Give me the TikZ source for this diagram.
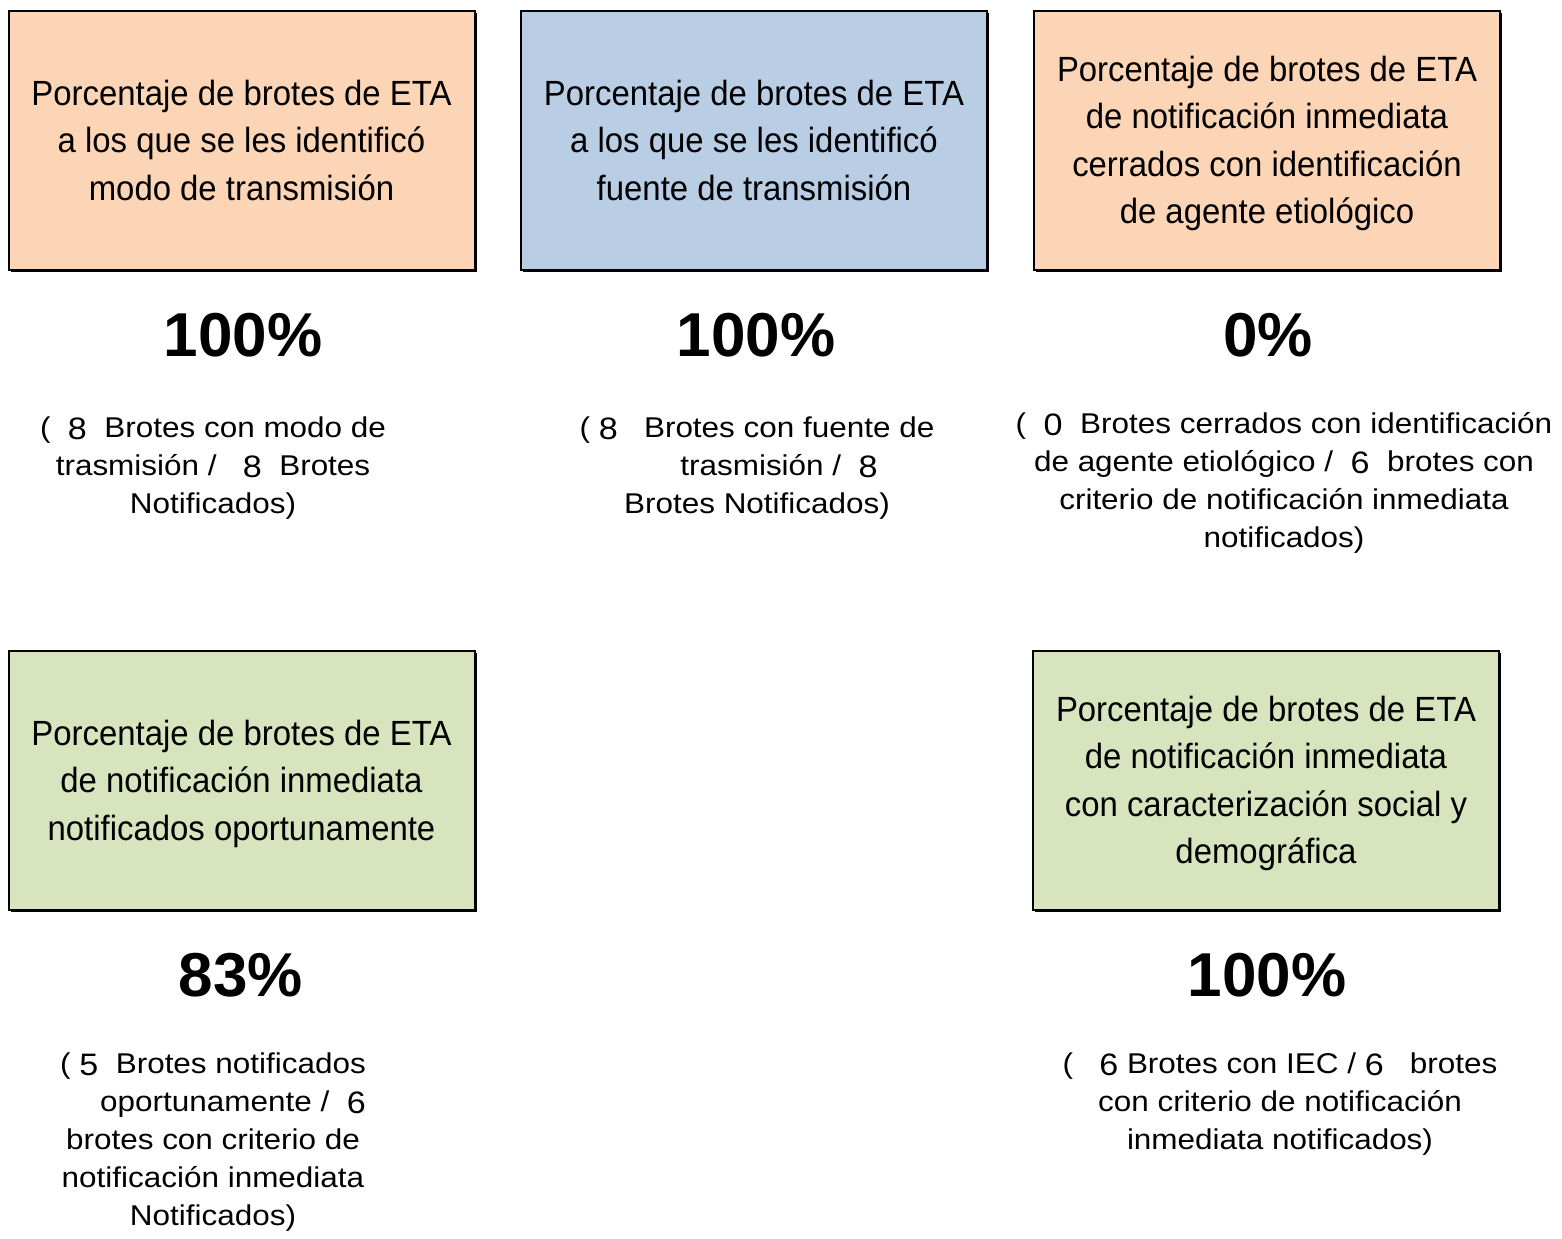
\documentclass[tikz,border=0pt]{standalone}
\usepackage{fontspec}
\setmainfont{Liberation Sans}
\newfontfamily\boxfont[FakeStretch=0.94]{Liberation Sans}
\newfontfamily\lowfont[FakeStretch=1.1]{Liberation Sans}
\usetikzlibrary{shadows}
\definecolor{peach}{RGB}{251,213,181}
\definecolor{paleblue}{RGB}{185,205,229}
\definecolor{palegreen}{RGB}{215,228,189}
\newcommand\dg[1]{{\fontsize{15.5}{19}\selectfont\raisebox{-1pt}{#1}}}
\newcommand\nodepth[1]{\raisebox{0pt}[\height][0pt]{#1}}
\begin{document}
\begin{tikzpicture}[x=0.5pt,y=-0.5pt,
  indbox/.style={draw=black, line width=1pt, minimum width=233pt, minimum height=129.5pt,
    inner sep=0pt, align=center,
    general shadow={fill=black, shadow xshift=1.2pt, shadow yshift=-1.2pt},
    font=\boxfont\fontsize{17.5}{23.75}\selectfont},
  pct/.style={font=\bfseries\fontsize{31}{34}\selectfont, inner sep=0pt},
  desc/.style={align=center, inner sep=0pt, font=\lowfont\fontsize{14.3}{19}\selectfont}]
\useasboundingbox (0,0) rectangle (1562,1238);

% boxes
\node[indbox, fill=peach] (b1) at (241.5,140) {Porcentaje de brotes de ETA\\a los que se les identificó\\modo de transmisión};
\node[indbox, fill=paleblue] (b2) at (754,140) {Porcentaje de brotes de ETA\\a los que se les identificó\\fuente de transmisión};
\node[indbox, fill=peach] (b3) at (1267,140) {Porcentaje de brotes de ETA\\de notificación inmediata\\cerrados con identificación\\\nodepth{de agente etiológico}};
\node[indbox, fill=palegreen] (b4) at (241.5,780) {Porcentaje de brotes de ETA\\de notificación inmediata\\\nodepth{notificados oportunamente}};
\node[indbox, fill=palegreen] (b5) at (1266,780) {Porcentaje de brotes de ETA\\de notificación inmediata\\con caracterización social y\\\nodepth{demográfica}};

% percentages
\node[pct] (p1) at (243,335) {100\%};
\node[pct] (p2) at (756,335) {100\%};
\node[pct] (p3) at (1268,335) {0\%};
\node[pct] (p4) at (241,975) {83\%};
\node[pct] (p5) at (1267,975) {100\%};

% descriptions
\node[desc] (d1) at (213,468) {(\ \ \dg{8}\ \ Brotes con modo de\\trasmisión /\ \ \ \dg{8}\ \ Brotes\\Notificados)};
\node[desc] (d2) at (757,468) {(\ \dg{8}\ \ \ Brotes con fuente de\\\hspace*{22pt}trasmisión /\ \ \dg{8}\\Brotes Notificados)};
\node[desc] (d3) at (1284,483) {(\ \ \dg{0}\ \ Brotes cerrados con identificación\\de agente etiológico /\ \ \dg{6}\ \ brotes con\\criterio de notificación inmediata\\notificados)};
\node[desc] (d4) at (213,1142) {(\ \dg{5}\ \ Brotes notificados\\\hspace*{20pt}oportunamente /\ \ \dg{6}\\brotes con criterio de\\notificación inmediata\\Notificados)};
\node[desc] (d5) at (1280,1104) {(\ \ \ \dg{6}\ Brotes con IEC /\ \dg{6}\ \ \ brotes\\con criterio de notificación\\inmediata notificados)};
\end{tikzpicture}
\end{document}
